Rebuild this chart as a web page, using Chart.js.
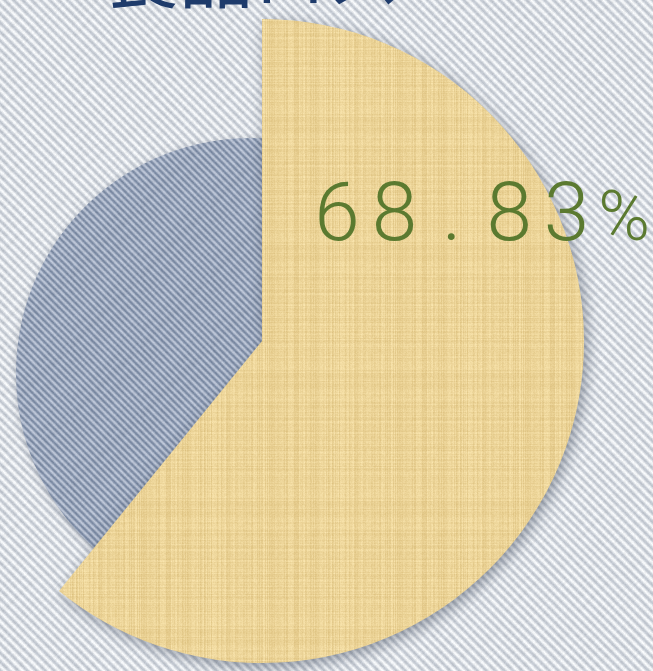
<!DOCTYPE html>
<html><head><meta charset="utf-8">
<script src="https://cdn.jsdelivr.net/npm/chart.js@4.4.0/dist/chart.umd.min.js"></script>
<style>
html,body{margin:0;padding:0;width:653px;height:671px;overflow:hidden;background:#dde2e9;}
#wrap{position:relative;width:653px;height:671px;overflow:hidden;}
#cA{position:absolute;left:0;top:0;}
#cB{position:absolute;left:-88px;top:-9px;}
</style></head><body>
<div id="wrap"><canvas id="cA" width="653" height="671"></canvas><canvas id="cB" width="800" height="700"></canvas></div>
<script>
// ---- data ----
const categories = ['食品ロス', 'その他'];
const shareValues = [68.83, 31.17];
const titleText = '食品ロス';

// ---- textures (styling only) ----
function hash(x, y, s) {
  let h = (x * 374761393 + y * 668265263 + s * 982451653) | 0;
  h = Math.imul(h ^ (h >>> 13), 1274126177);
  h = h ^ (h >>> 16);
  return (h >>> 0) / 4294967295;
}
function makeTile(n, fn) {
  const c = document.createElement('canvas'); c.width = n; c.height = n;
  const g = c.getContext('2d'); const img = g.createImageData(n, n);
  for (let y = 0; y < n; y++) for (let x = 0; x < n; x++) {
    const col = fn(x, y); const i = (y * n + x) * 4;
    img.data[i] = col[0]; img.data[i + 1] = col[1]; img.data[i + 2] = col[2]; img.data[i + 3] = 255;
  }
  g.putImageData(img, 0, 0); return c;
}
function denim(n, p, dark, light, seed) {
  return makeTile(n, (x, y) => {
    const t = (((x - y) % p) + p) % p / p;
    const s = 0.5 + 0.5 * Math.cos(2 * Math.PI * t);
    const nz = (hash(x, y, seed) - 0.5) * 10 + (hash(Math.floor((x + y) / 3), 0, seed + 1) - 0.5) * 8;
    return dark.map((d, k) => d + (light[k] - d) * s + nz);
  });
}
const bgTile = denim(72, 9, [192, 198, 207], [246, 248, 250], 11);
const blueTile = denim(70, 7, [122, 137, 162], [188, 197, 214], 21);
const yellowTile = makeTile(128, (x, y) => {
  const cn = (hash(x, 0, 31) - 0.5) * 18;
  const rn = (hash(0, y, 32) - 0.5) * 12;
  const pn = (hash(x, y, 33) - 0.5) * 10;
  const v = cn + rn + pn;
  return [236 + v * 0.8, 212 + v, 152 + v * 1.3];
});
const pctx = document.createElement('canvas').getContext('2d');
const bgPat = pctx.createPattern(bgTile, 'repeat');
const bluePat = pctx.createPattern(blueTile, 'repeat');
const yellowPat = pctx.createPattern(yellowTile, 'repeat');

// ---- plugins ----
const bgPlugin = {
  id: 'bgFill',
  beforeDraw(chart) {
    const c = chart.ctx; c.save(); c.fillStyle = bgPat; c.fillRect(0, 0, chart.width, chart.height); c.restore();
  }
};
const shadowPlugin = {
  id: 'sliceShadow',
  beforeDatasetsDraw(chart, args, o) {
    const c = chart.ctx; c.save();
    c.shadowColor = o.color; c.shadowBlur = o.blur; c.shadowOffsetX = o.dx; c.shadowOffsetY = o.dy;
  },
  afterDatasetsDraw(chart) { chart.ctx.restore(); }
};
const titlePlugin = {
  id: 'topTitle',
  afterDraw(chart) {
    const c = chart.ctx; c.save();
    c.font = "400 74px 'Noto Sans CJK JP'"; c.fillStyle = '#1e3b6b';
    c.textAlign = 'left'; c.textBaseline = 'alphabetic';
    c.fillText(titleText, 105, 2);
    c.restore();
  }
};
const labelPlugin = {
  id: 'pctLabel',
  afterDatasetsDraw(chart) {
    const arc = chart.getDatasetMeta(0).data[0];
    const txt = shareValues[0].toFixed(2) + '%';
    const c = chart.ctx; c.save();
    c.fillStyle = '#5b7a30'; c.textAlign = 'center'; c.textBaseline = 'alphabetic';
    [...txt].forEach((ch, i) => {
      c.font = ch === '%' ? "300 70px Roboto" : "300 82px Roboto";
      c.fillText(ch, arc.x + 75 + i * 57.4, arc.y - 101);
    });
    c.restore();
  }
};

const common = {
  responsive: false, animation: false, events: [],
  plugins: { legend: { display: false }, tooltip: { enabled: false } }
};

// back chart: blue slice
new Chart(document.getElementById('cA'), {
  type: 'pie',
  data: { labels: categories, datasets: [{ data: shareValues, backgroundColor: [bluePat, bluePat], borderWidth: 0 }] },
  options: Object.assign({}, common, {
    rotation: 150,
    layout: { padding: { left: 16, top: 138, right: 167, bottom: 63 } },
    plugins: { legend: { display: false }, tooltip: { enabled: false },
      sliceShadow: { color: 'rgba(40,50,70,0.35)', blur: 10, dx: 2, dy: 3 } }
  }),
  plugins: [bgPlugin, shadowPlugin, titlePlugin]
});

// front chart: yellow slice
new Chart(document.getElementById('cB'), {
  type: 'pie',
  data: { labels: categories, datasets: [{ data: shareValues, backgroundColor: [yellowPat, 'rgba(0,0,0,0)'], borderWidth: 0 }] },
  options: Object.assign({}, common, {
    rotation: 0, circumference: 318.3,
    layout: { padding: { left: 28, top: 28, right: 128, bottom: 28 } },
    plugins: { legend: { display: false }, tooltip: { enabled: false },
      sliceShadow: { color: 'rgba(40,50,70,0.45)', blur: 14, dx: 3, dy: 4 } }
  }),
  plugins: [shadowPlugin, labelPlugin]
});
</script>
</body></html>
